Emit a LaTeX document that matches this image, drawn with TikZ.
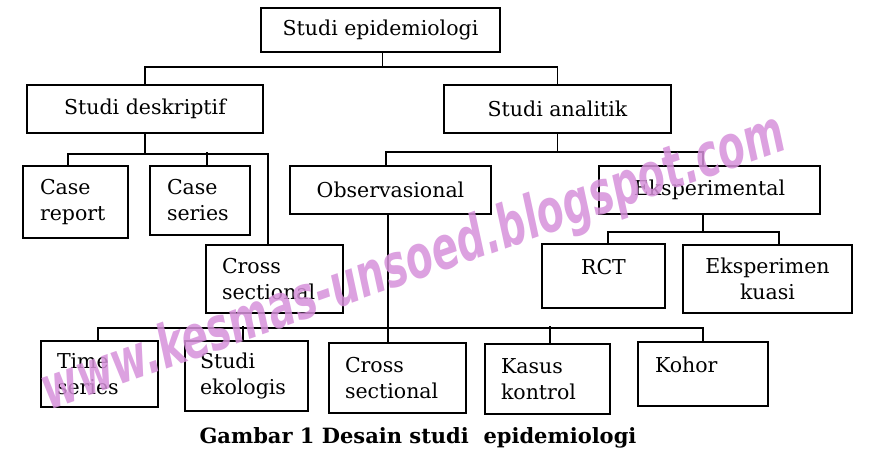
\documentclass[tikz,border=0pt]{standalone}
\usepackage{fontspec}
\setmainfont{DejaVu Serif}
\newfontfamily\tulisan{DejaVu Sans}
\usetikzlibrary{positioning}
\definecolor{tanda}{RGB}{214,145,218}

\begin{document}
\begin{tikzpicture}[x=1pt, y=1pt,
	kotak/.style={draw, line width=1.8pt, inner sep=0pt, font=\fontsize{20.5}{26}\selectfont},
	kiri/.style={align=left, text width=#1},
	garis/.style={line width=1.8pt}]
	\useasboundingbox (0,0) rectangle (870,-457);
	% tingkat atas
	\node[kotak, minimum width=239pt, minimum height=44pt] (epi) at (380.5,-30) {Studi epidemiologi};
	\node[kotak, minimum width=236pt, minimum height=48pt] (desk) at (145,-109) {Studi deskriptif};
	\node[kotak, minimum width=227pt, minimum height=48pt] (anal) at (557.5,-109) {Studi analitik};
	% deskriptif
	\node[kotak, kiri=71pt, minimum width=105pt, minimum height=72pt] (crep) at (75.5,-202) {Case\\report};
	\node[kotak, kiri=66pt, minimum width=100pt, minimum height=69pt] (cser) at (200,-200.5) {Case\\series};
	\node[kotak, kiri=105pt, minimum width=137pt, minimum height=68pt] (csd) at (274.5,-279) {Cross\\sectional};
	% analitik
	\node[kotak, minimum width=201pt, minimum height=48pt] (obs) at (390.5,-190) {Observasional};
	\node[kotak, minimum width=221pt, minimum height=48pt] (eksp) at (709.5,-190) {Eksperimental};
	\node[kotak, text depth=18pt, minimum width=123pt, minimum height=64pt] (rct) at (603.5,-276) {RCT};
	\node[kotak, align=center, minimum width=169pt, minimum height=68pt] (ekua) at (767.5,-279) {Eksperimen\\kuasi};
	% observasional
	\node[kotak, kiri=85pt, minimum width=117pt, minimum height=66pt] (time) at (99.5,-374) {Time\\series};
	\node[kotak, kiri=93pt, minimum width=123pt, minimum height=70pt] (ekol) at (246.5,-376) {Studi\\ekologis};
	\node[kotak, kiri=105pt, minimum width=137pt, minimum height=70pt] (cso) at (397.5,-378) {Cross\\sectional};
	\node[kotak, kiri=93pt, minimum width=125pt, minimum height=70pt] (kasus) at (547.5,-379) {Kasus\\kontrol};
	\node[kotak, kiri=96pt, text depth=18pt, minimum width=130pt, minimum height=64pt] (kohor) at (703,-374) {Kohor};
	% garis penghubung
	\draw[garis] ([xshift=2pt]epi.south) -- ++(0,-14) coordinate (b0);
	\draw[garis] (desk.north) |- (b0) -| (anal.north);
	\draw[garis] (desk.south) -- ++(0,-20) coordinate (b1);
	\draw[garis] ([xshift=-7.5pt]crep.north) |- (b1) -| ([xshift=-6.5pt]csd.north);
	\draw[garis] ([xshift=7pt]cser.north) -- ++(0,13);
	\draw[garis] (anal.south) -- ++(0,-18) coordinate (b2);
	\draw[garis] ([xshift=-4.5pt]obs.north) |- (b2) -| ([xshift=-6.5pt]eksp.north);
	\draw[garis] ([xshift=-6.5pt]eksp.south) -- ++(0,-17) coordinate (b3);
	\draw[garis] ([xshift=4.5pt]rct.north) |- (b3) -| ([xshift=11.5pt]ekua.north);
	\draw[garis] ([xshift=-2.5pt]obs.south) -- ([xshift=-9.5pt]cso.north);
	\path ([xshift=-2.5pt]obs.south) ++(0,-113) coordinate (b4);
	\draw[garis] ([xshift=-1.5pt]time.north) |- (b4) -| (kohor.north);
	\draw[garis] ([xshift=-3.5pt]ekol.north) -- ++(0,14);
	\draw[garis] ([xshift=2.5pt]kasus.north) -- ++(0,17);
	% judul
	\node[font=\fontsize{21}{24}\selectfont\bfseries] (judul) at (418,-438) {Gambar 1 Desain studi\ \ epidemiologi};
	% tanda air
	\node[rotate=19.5, text=tanda, opacity=0.85, font=\fontsize{52}{52}\selectfont\tulisan\bfseries\itshape] (web) at (414,-264) {\scalebox{0.76}[1.15]{www.kesmas-unsoed.blogspot.com}};
\end{tikzpicture}
\end{document}
